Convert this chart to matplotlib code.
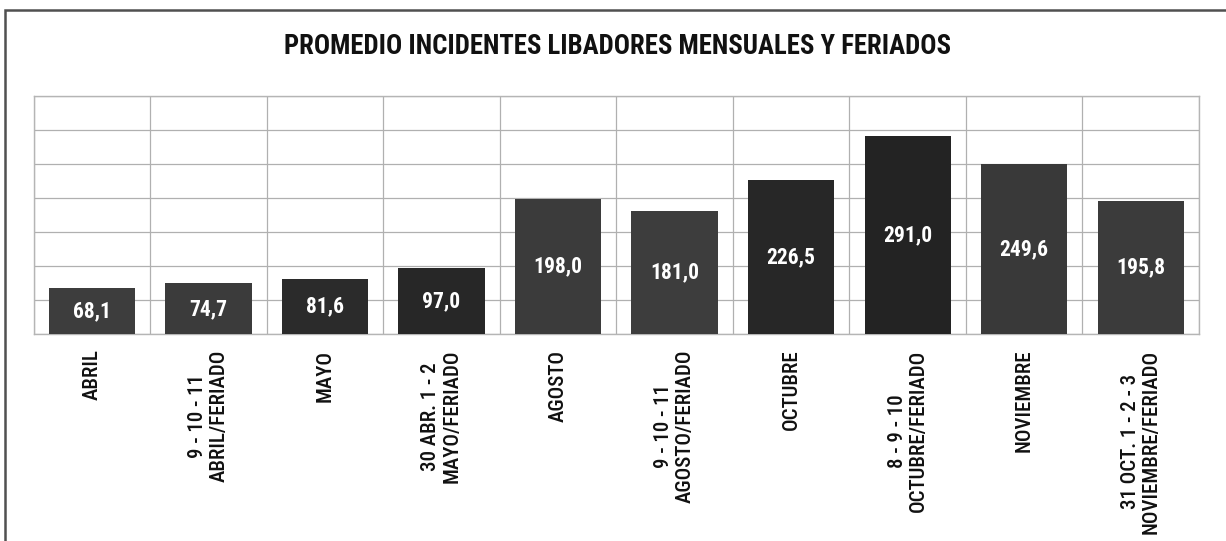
import matplotlib
matplotlib.use("Agg")
import matplotlib.pyplot as plt
from matplotlib.patches import Rectangle
import numpy as np

# categories and values
categories = [
    "ABRIL",
    "9 - 10 - 11\nABRIL/FERIADO",
    "MAYO",
    "30 ABR. 1 - 2\nMAYO/FERIADO",
    "AGOSTO",
    "9 - 10 - 11\nAGOSTO/FERIADO",
    "OCTUBRE",
    "8 - 9 - 10\nOCTUBRE/FERIADO",
    "NOVIEMBRE",
    "31 OCT. 1 - 2 - 3\nNOVIEMBRE/FERIADO",
]
values = [68.1, 74.7, 81.6, 97.0, 198.0, 181.0, 226.5, 291.0, 249.6, 195.8]
bar_colors = ["#3d3d3d", "#3b3b3b", "#2b2b2b", "#272727", "#3b3b3b",
              "#3d3d3d", "#272727", "#232323", "#393939", "#3b3b3b"]

FONT = ["Roboto Condensed", "DejaVu Sans"]

fig = plt.figure(figsize=(12.26, 5.41), dpi=100)
fig.patch.set_facecolor("white")

# outer frame of the scanned chart
fig.patches.append(Rectangle((5 / 1226, -0.05), 1.1, 1 - 9.5 / 541 + 0.05,
                             transform=fig.transFigure, fill=False,
                             edgecolor="#505050", linewidth=1.8))

ax = fig.add_axes([33.6 / 1226, 1 - 334.3 / 541,
                   (1199 - 33.6) / 1226, (334.3 - 95.7) / 541])

x = np.arange(len(categories))
bars = ax.bar(x, values, width=0.74, color=bar_colors, zorder=3)

ax.set_xlim(-0.5, len(categories) - 0.5)
ax.set_ylim(0, 350)
ax.set_yticks(np.arange(0, 351, 50))
ax.set_xticks(np.arange(-0.5, len(categories), 1.0))
ax.grid(True, color="#b0b0b0", linewidth=0.9, zorder=0)
ax.tick_params(axis="both", length=0, labelleft=False, labelbottom=False)
for s in ax.spines.values():
    s.set_color("#b5b5b5")
    s.set_linewidth(1.0)

for b, v in zip(bars, values):
    ax.text(b.get_x() + b.get_width() / 2, v / 2, f"{v:.1f}".replace(".", ","),
            ha="center", va="center", color="white", fontsize=15.5,
            fontweight="bold", family=FONT, zorder=4)

for i, lab in enumerate(categories):
    ax.annotate(lab, xy=(i, 0), xycoords=("data", "axes fraction"),
                xytext=(0, -11), textcoords="offset points",
                rotation=90, ha="center", va="top", multialignment="center",
                fontsize=15, fontweight="medium", family=FONT,
                color="#111111", linespacing=1.15)

fig.text(617 / 1226, 1 - 46 / 541, "PROMEDIO INCIDENTES LIBADORES MENSUALES Y FERIADOS",
         ha="center", va="center", fontsize=19.3, fontweight="bold",
         family=FONT, color="#111111")

fig.savefig("out.png", dpi=100, facecolor="white")
